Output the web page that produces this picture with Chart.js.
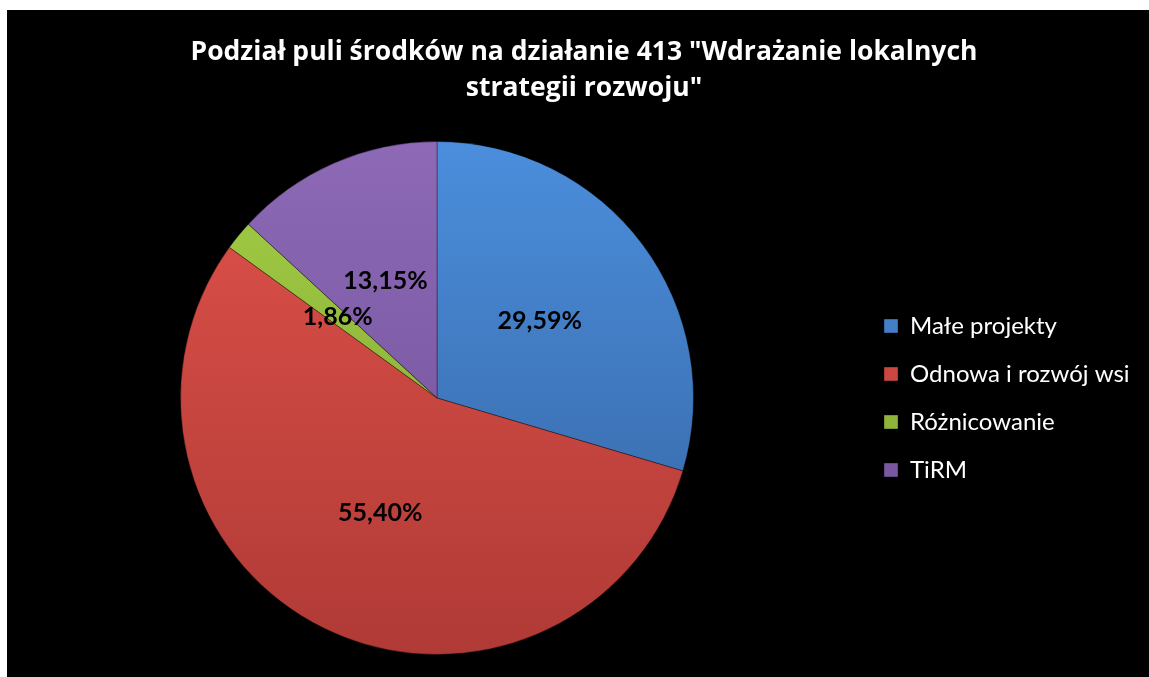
<!DOCTYPE html>
<html>
<head>
<meta charset="utf-8">
<script src="https://cdn.jsdelivr.net/npm/chart.js@4.4.1/dist/chart.umd.min.js"></script>
<style>
  html, body { margin: 0; padding: 0; background: #fff; overflow: hidden; }
  #wrap { position: absolute; left: 7px; top: 10px; width: 1142px; height: 667px; background: #000; overflow: hidden; }
  #box { position: absolute; left: 0; top: 0; width: 1150px; height: 667px; }
</style>
</head>
<body>
<div id="wrap"><div id="box"><canvas id="chart"></canvas></div></div>
<script>
// data
const categories = ['Małe projekty', 'Odnowa i rozwój wsi', 'Różnicowanie', 'TiRM'];
const shares = [29.59, 55.40, 1.86, 13.15];
const titleLines = ['Podział puli środków na działanie 413 "Wdrażanie lokalnych', 'strategii rozwoju"'];

// slice colours (top / bottom of the light gradient)
const topColors = ['#4b8edc', '#e0524a', '#a3cf45', '#8d69b6'];
const bottomColors = ['#34629f', '#b03a36', '#7f9e33', '#6e4f96'];

const FONT = 'Lato, "Open Sans", sans-serif';
const legendFont = { family: FONT, size: 24 };
const legendPad = 24;

function shade(ctx) {
  const i = ctx.dataIndex;
  const area = ctx.chart.chartArea;
  if (!area) return topColors[i];
  const g = ctx.chart.ctx.createLinearGradient(0, area.top, 0, area.bottom);
  g.addColorStop(0, topColors[i]);
  g.addColorStop(1, bottomColors[i]);
  return g;
}

// empty box on the far right so the legend sits where the original has it
const rightSpacer = {
  id: 'rightSpacer',
  beforeInit(chart) {
    Chart.layouts.addBox(chart, {
      position: 'right', weight: 2000, fullSize: false, options: {},
      left: 0, top: 0, right: 0, bottom: 0, width: 0, height: 0,
      isHorizontal() { return false; },
      update(maxWidth, maxHeight) {
        const c = chart.ctx;
        c.save();
        c.font = legendFont.size + 'px ' + FONT;
        const textW = Math.max(...categories.map(t => c.measureText(t).width));
        c.restore();
        const legendW = legendPad + 14 + legendFont.size / 2 + textW + 10;
        this.width = Math.max(0, 294 - legendW);
        this.height = maxHeight;
      },
      draw() {}
    });
  }
};

const sliceLabels = {
  id: 'sliceLabels',
  afterDatasetsDraw(chart) {
    const c = chart.ctx;
    const meta = chart.getDatasetMeta(0);
    c.save();
    c.font = 'bold 25px ' + FONT;
    c.fillStyle = '#000';
    c.textAlign = 'center';
    c.textBaseline = 'middle';
    meta.data.forEach((arc, i) => {
      const p = arc.tooltipPosition();
      c.fillText(shares[i].toFixed(2).replace('.', ',') + '%', p.x, p.y);
    });
    c.restore();
  }
};

new Chart(document.getElementById('chart'), {
  type: 'pie',
  data: {
    labels: categories,
    datasets: [{
      data: shares,
      backgroundColor: shade,
      borderColor: 'rgba(0,0,0,0.35)',
      borderWidth: 1
    }]
  },
  options: {
    responsive: true,
    maintainAspectRatio: false,
    animation: false,
    layout: { padding: { left: 7, right: 3, top: 0, bottom: 22 } },
    plugins: {
      title: {
        display: true,
        text: titleLines,
        color: '#fff',
        font: { family: '"Open Sans", sans-serif', size: 26.5, weight: 'bold', lineHeight: '36px' },
        padding: { top: 24, bottom: 35 }
      },
      legend: {
        position: 'right',
        fullSize: false,
        labels: {
          color: '#fff',
          font: legendFont,
          boxWidth: 14,
          boxHeight: 14,
          padding: legendPad
        }
      },
      tooltip: { enabled: false }
    }
  },
  plugins: [rightSpacer, sliceLabels]
});
</script>
</body>
</html>
